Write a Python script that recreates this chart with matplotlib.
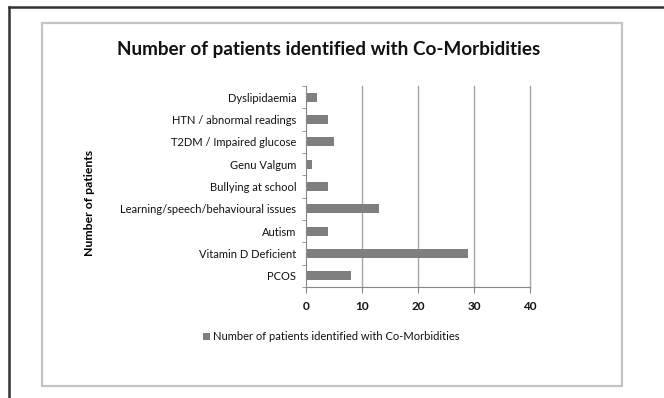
import matplotlib.pyplot as plt
from matplotlib.patches import Rectangle
from matplotlib.lines import Line2D

# Co-morbidity counts (bottom to top as drawn)
categories = [
    'PCOS',
    'Vitamin D Deficient',
    'Autism',
    'Learning/speech/behavioural issues',
    'Bullying at school',
    'Genu Valgum',
    'T2DM / Impaired glucose',
    'HTN / abnormal readings',
    'Dyslipidaemia',
]
patients = [8, 29, 4, 13, 4, 1, 5, 4, 2]
x_ticks = [0, 10, 20, 30, 40]
series_name = 'Number of patients identified with Co-Morbidities'

plt.rcParams['font.family'] = ['Lato', 'DejaVu Sans']
plt.rcParams['text.color'] = '#111111'
plt.rcParams['xtick.color'] = '#111111'
plt.rcParams['ytick.color'] = '#111111'

W, H = 664, 398
fig = plt.figure(figsize=(W / 100, H / 100), dpi=100)
fig.patch.set_facecolor('white')

# page frame and chart area border
fig.add_artist(Line2D([9 / W, 1], [1 - 7 / H, 1 - 7 / H], transform=fig.transFigure,
                      color='#333333', linewidth=1.8))
fig.add_artist(Line2D([9 / W, 9 / W], [0, 1 - 7 / H], transform=fig.transFigure,
                      color='#333333', linewidth=1.8))
fig.add_artist(Rectangle((42 / W, 1 - 386 / H), (622 - 42) / W, (386 - 23) / H,
                         transform=fig.transFigure, fill=False,
                         edgecolor='#c4c4c4', linewidth=1.6))

ax = fig.add_axes([306 / W, 1 - 287 / H, (530 - 306) / W, (287 - 86) / H])
ypos = range(len(categories))
ax.barh(ypos, patients, height=0.4, color='#7f7f7f', label=series_name)

ax.set_xlim(0, 40)
ax.set_ylim(-0.5, len(categories) - 0.5)
ax.set_xticks(x_ticks)
ax.set_xticklabels([str(t) for t in x_ticks], fontsize=8.5, fontweight='bold')
ax.set_yticks(list(ypos))
ax.set_yticklabels(categories, fontsize=8)
ax.set_yticks([i - 0.5 for i in range(len(categories) + 1)], minor=True)
ax.tick_params(axis='y', which='major', length=0, pad=7)
ax.tick_params(axis='y', which='minor', length=3, color='#888888')
ax.tick_params(axis='x', length=4, color='#888888', pad=6)

# vertical gridlines, including the one at the right edge
for t in x_ticks[1:]:
    ax.axvline(t, color='#a8a8a8', linewidth=1.0, zorder=0, clip_on=False)
for side in ['top', 'right']:
    ax.spines[side].set_visible(False)
ax.spines['left'].set_color('#888888')
ax.spines['bottom'].set_color('#888888')

ax.set_ylabel('Number of patients', fontsize=8.8, fontweight='bold')
ax.yaxis.set_label_coords(-0.94, 0.42)

fig.text(329 / W, 1 - 50 / H, 'Number of patients identified with Co-Morbidities',
         ha='center', va='center', fontsize=13.6, fontweight='bold')

fig.legend(loc='center left', bbox_to_anchor=(193 / W, 1 - 337 / H), frameon=False,
           fontsize=8, handlelength=0.6, handleheight=0.6, handletextpad=0.3)

fig.savefig('out.png', dpi=100)
